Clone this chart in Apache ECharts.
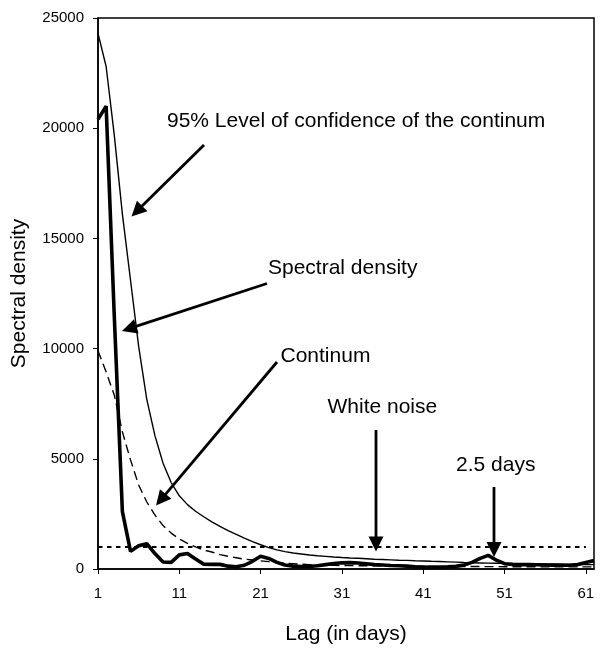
<!DOCTYPE html>
<html><head><meta charset="utf-8">
<script src="https://cdn.jsdelivr.net/npm/echarts@6/dist/echarts.min.js"></script>
<style>html,body{margin:0;padding:0;background:#fff}#c{width:600px;height:650px}</style>
</head><body><div id="c"></div>
<script>
const lags = ['1','2','3','4','5','6','7','8','9','10','11','12','13','14','15','16','17','18','19','20',
  '21','22','23','24','25','26','27','28','29','30','31','32','33','34','35','36','37','38','39','40',
  '41','42','43','44','45','46','47','48','49','50','51','52','53','54','55','56','57','58','59','60','61','62'];

const spectralDensity = [20400,21000,11500,2600,800,1050,1150,700,320,300,
  640,700,450,220,210,210,130,100,170,350,
  580,480,300,180,130,110,120,150,200,250,
  280,290,270,240,200,180,160,150,130,100,
  90,80,90,100,120,180,300,480,620,400,
  240,210,200,200,190,180,175,170,170,200,300,380];

const confidence95 = [24300,22800,19700,16100,13100,10100,7700,6050,4800,3920,
  3320,2920,2620,2370,2140,1930,1740,1570,1400,1240,
  1100,970,870,790,725,680,635,600,575,545,
  520,500,485,465,445,430,415,400,390,375,
  365,350,340,325,310,295,285,275,265,260,
  255,245,240,235,230,225,220,215,210,205,200,200];

const continuum = [9900,8940,7890,6220,4950,3810,3040,2450,1970,1630,
  1360,1160,1000,860,770,650,575,510,445,410,
  370,335,295,260,240,220,200,185,175,165,
  160,155,150,145,142,140,137,134,131,128,
  125,122,120,118,116,115,113,111,109,107,
  105,103,101,100,99,98,97,96,95,95,95,95];

const whiteNoiseLevel = 1000;
const whiteNoiseLags = lags.slice(0, 61);

const yTicks = { min: 0, max: 25000, interval: 5000 };

const FONT = "'Liberation Sans', Arial, sans-serif";

// annotations: text + arrow (pixel layout)
const notes = [
  { text: '95% Level of confidence of the continum', x: 167, y: 122.5, from: [204, 145], to: [131.5, 216.5] },
  { text: 'Spectral density', x: 268, y: 269.5, from: [267, 283.5], to: [122, 331] },
  { text: 'Continum', x: 280.5, y: 357.5, from: [277, 362], to: [156, 505.5] },
  { text: 'White noise', x: 327.5, y: 408.5, from: [376, 430], to: [376, 551.5] },
  { text: '2.5 days', x: 456, y: 467, from: [494, 487], to: [494, 557] }
];

function arrowGraphics() {
  const els = [];
  const headLen = 15, headHalf = 7.5;
  notes.forEach(n => {
    els.push({ type: 'text', left: n.x, top: n.y - 12, z: 100,
      style: { text: n.text, font: '21px ' + FONT, fill: '#000' } });
    const [x1, y1] = n.from, [x2, y2] = n.to;
    const dx = x2 - x1, dy = y2 - y1, L = Math.hypot(dx, dy);
    const ux = dx / L, uy = dy / L;
    const bx = x2 - ux * headLen, by = y2 - uy * headLen;
    els.push({ type: 'line', z: 100,
      shape: { x1: x1, y1: y1, x2: bx + ux * 2, y2: by + uy * 2 },
      style: { stroke: '#000', lineWidth: 2.8 } });
    els.push({ type: 'polygon', z: 100,
      shape: { points: [[x2, y2], [bx - uy * headHalf, by + ux * headHalf], [bx + uy * headHalf, by - ux * headHalf]] },
      style: { fill: '#000' } });
  });
  return els;
}

const chart = echarts.init(document.getElementById('c'), null, { renderer: 'canvas' });
chart.setOption({
  animation: false,
  backgroundColor: '#fff',
  grid: { left: 98, top: 18, right: 6, bottom: 81, show: true, borderColor: '#000', borderWidth: 1.5 },
  xAxis: {
    type: 'category', data: lags, boundaryGap: false,
    name: 'Lag (in days)', nameLocation: 'middle', nameGap: 55,
    nameTextStyle: { fontFamily: FONT, fontSize: 21, color: '#000' },
    axisLine: { lineStyle: { color: '#000', width: 1.5 } },
    axisTick: { interval: 9, length: 5, lineStyle: { color: '#000', width: 1 } },
    axisLabel: { interval: 9, margin: 17, fontFamily: FONT, fontSize: 15, color: '#000' },
    splitLine: { show: false }
  },
  yAxis: {
    type: 'value', min: yTicks.min, max: yTicks.max, interval: yTicks.interval,
    name: 'Spectral density', nameLocation: 'middle', nameGap: 68,
    nameTextStyle: { fontFamily: FONT, fontSize: 21, color: '#000' },
    axisLine: { show: true, lineStyle: { color: '#000', width: 1.5 } },
    axisTick: { show: true, length: 5, lineStyle: { color: '#000', width: 1 } },
    axisLabel: { margin: 14, fontFamily: FONT, fontSize: 15, color: '#000', formatter: v => String(v) },
    splitLine: { show: false }
  },
  series: [
    { name: 'White noise', type: 'line', data: whiteNoiseLags.map(() => whiteNoiseLevel), showSymbol: false,
      lineStyle: { color: '#000', width: 2, type: [4.5, 4.5] }, z: 2 },
    { name: 'Continuum', type: 'line', data: continuum, showSymbol: false,
      lineStyle: { color: '#000', width: 1.4, type: [9, 5] }, z: 3 },
    { name: '95% confidence', type: 'line', data: confidence95, showSymbol: false,
      lineStyle: { color: '#000', width: 1.4 }, z: 4 },
    { name: 'Spectral density', type: 'line', data: spectralDensity, showSymbol: false,
      lineStyle: { color: '#000', width: 3.6 }, z: 5 }
  ],
  graphic: arrowGraphics()
});
</script></body></html>
